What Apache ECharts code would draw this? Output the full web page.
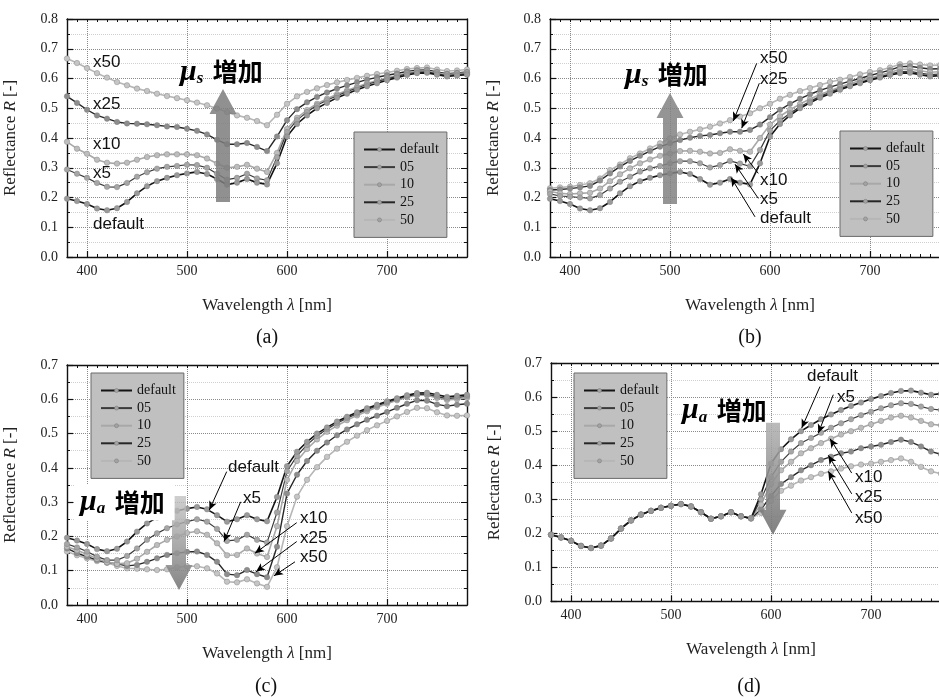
<!DOCTYPE html>
<html>
<head>
<meta charset="utf-8">
<script src="https://cdn.jsdelivr.net/npm/echarts@6/dist/echarts.min.js"></script>
<style>
  html, body { margin: 0; background: #fff; }
  #chart { width: 939px; height: 697px; }
</style>
</head>
<body>
<div id="chart"></div>
<script>
// wavelength [nm], one point every 10 nm
const wavelength = [380, 390, 400, 410, 420, 430, 440, 450, 460, 470, 480, 490, 500, 510, 520, 530, 540, 550, 560, 570, 580,
  590, 600, 610, 620, 630, 640, 650, 660, 670, 680, 690, 700, 710, 720, 730, 740, 750, 760, 770, 780]

// default spectrum (same in all four panels)
const reflDefault = [0.196, 0.188, 0.178, 0.163, 0.157, 0.164, 0.185, 0.214, 0.238, 0.255, 0.266, 0.275, 0.281, 0.286, 0.279, 0.262, 0.243, 0.250, 0.262, 0.250, 0.244,
  0.315, 0.405, 0.447, 0.476, 0.500, 0.518, 0.535, 0.549, 0.562, 0.574, 0.584, 0.594, 0.603, 0.612, 0.618, 0.619, 0.613, 0.607, 0.610, 0.613]

// (a) mu_s increase
const scatA05 = [0.294, 0.280, 0.266, 0.249, 0.236, 0.235, 0.249, 0.270, 0.285, 0.297, 0.303, 0.306, 0.310, 0.309, 0.300, 0.280, 0.260, 0.266, 0.280, 0.264, 0.258,
  0.335, 0.420, 0.460, 0.487, 0.510, 0.527, 0.542, 0.556, 0.568, 0.580, 0.590, 0.599, 0.607, 0.616, 0.621, 0.622, 0.616, 0.610, 0.613, 0.616]
const scatA10 = [0.387, 0.364, 0.347, 0.327, 0.317, 0.314, 0.317, 0.327, 0.336, 0.342, 0.345, 0.345, 0.345, 0.342, 0.331, 0.314, 0.300, 0.303, 0.310, 0.297, 0.286,
  0.350, 0.430, 0.468, 0.494, 0.515, 0.532, 0.547, 0.560, 0.572, 0.583, 0.593, 0.602, 0.610, 0.618, 0.624, 0.625, 0.619, 0.613, 0.616, 0.619]
const scatA25 = [0.540, 0.518, 0.495, 0.476, 0.465, 0.454, 0.449, 0.448, 0.446, 0.443, 0.439, 0.437, 0.431, 0.424, 0.412, 0.394, 0.379, 0.379, 0.383, 0.370, 0.356,
  0.405, 0.460, 0.497, 0.520, 0.538, 0.553, 0.566, 0.577, 0.587, 0.596, 0.604, 0.611, 0.617, 0.624, 0.628, 0.629, 0.622, 0.616, 0.619, 0.622]
const scatA50 = [0.667, 0.652, 0.635, 0.618, 0.603, 0.588, 0.577, 0.566, 0.558, 0.549, 0.541, 0.534, 0.527, 0.519, 0.510, 0.499, 0.487, 0.476, 0.468, 0.457, 0.443,
  0.478, 0.515, 0.540, 0.555, 0.567, 0.578, 0.587, 0.595, 0.602, 0.609, 0.615, 0.620, 0.626, 0.632, 0.635, 0.637, 0.630, 0.625, 0.627, 0.630]

// (b) mu_s increase (other layer)
const scatB05 = [0.212, 0.205, 0.203, 0.200, 0.197, 0.208, 0.230, 0.253, 0.270, 0.287, 0.298, 0.306, 0.315, 0.322, 0.322, 0.315, 0.301, 0.309, 0.323, 0.314, 0.305,
  0.360, 0.425, 0.458, 0.483, 0.505, 0.523, 0.540, 0.554, 0.566, 0.577, 0.587, 0.597, 0.606, 0.615, 0.623, 0.624, 0.618, 0.613, 0.615, 0.617]
const scatB10 = [0.220, 0.214, 0.212, 0.214, 0.216, 0.230, 0.255, 0.278, 0.298, 0.315, 0.328, 0.340, 0.348, 0.356, 0.357, 0.354, 0.348, 0.350, 0.362, 0.357, 0.354,
  0.400, 0.445, 0.473, 0.495, 0.514, 0.531, 0.546, 0.559, 0.571, 0.582, 0.593, 0.602, 0.611, 0.620, 0.631, 0.632, 0.626, 0.621, 0.623, 0.625]
const scatB25 = [0.225, 0.227, 0.230, 0.234, 0.239, 0.257, 0.281, 0.304, 0.323, 0.340, 0.356, 0.371, 0.382, 0.393, 0.401, 0.407, 0.410, 0.416, 0.421, 0.421, 0.427,
  0.445, 0.470, 0.495, 0.515, 0.532, 0.547, 0.560, 0.571, 0.581, 0.591, 0.600, 0.610, 0.619, 0.628, 0.640, 0.641, 0.636, 0.632, 0.633, 0.635]
const scatB50 = [0.231, 0.234, 0.236, 0.242, 0.248, 0.264, 0.292, 0.311, 0.332, 0.348, 0.365, 0.382, 0.399, 0.412, 0.421, 0.429, 0.438, 0.449, 0.460, 0.472, 0.483,
  0.500, 0.515, 0.532, 0.545, 0.558, 0.568, 0.578, 0.588, 0.596, 0.605, 0.614, 0.622, 0.628, 0.637, 0.648, 0.651, 0.647, 0.644, 0.645, 0.647]

// (c) mu_a increase
const absC05 = [0.178, 0.168, 0.156, 0.141, 0.131, 0.131, 0.143, 0.165, 0.190, 0.209, 0.224, 0.235, 0.243, 0.250, 0.243, 0.222, 0.187, 0.190, 0.205, 0.190, 0.182,
  0.270, 0.390, 0.435, 0.467, 0.493, 0.513, 0.530, 0.545, 0.558, 0.570, 0.581, 0.591, 0.600, 0.609, 0.614, 0.615, 0.608, 0.602, 0.605, 0.609]
const absC10 = [0.170, 0.160, 0.148, 0.135, 0.125, 0.120, 0.122, 0.135, 0.155, 0.175, 0.190, 0.200, 0.210, 0.215, 0.205, 0.180, 0.145, 0.146, 0.165, 0.150, 0.140,
  0.230, 0.365, 0.420, 0.455, 0.483, 0.505, 0.523, 0.539, 0.553, 0.565, 0.577, 0.587, 0.597, 0.606, 0.612, 0.612, 0.604, 0.598, 0.600, 0.604]
const absC25 = [0.165, 0.151, 0.141, 0.131, 0.124, 0.120, 0.114, 0.117, 0.126, 0.136, 0.146, 0.151, 0.155, 0.156, 0.146, 0.126, 0.090, 0.087, 0.102, 0.090, 0.081,
  0.170, 0.325, 0.380, 0.420, 0.450, 0.474, 0.495, 0.512, 0.527, 0.540, 0.552, 0.563, 0.575, 0.587, 0.597, 0.596, 0.585, 0.580, 0.584, 0.587]
const absC50 = [0.156, 0.145, 0.136, 0.128, 0.123, 0.114, 0.107, 0.106, 0.104, 0.102, 0.104, 0.110, 0.113, 0.113, 0.107, 0.092, 0.068, 0.066, 0.075, 0.063, 0.053,
  0.110, 0.230, 0.316, 0.365, 0.402, 0.432, 0.456, 0.476, 0.494, 0.510, 0.524, 0.537, 0.550, 0.563, 0.575, 0.574, 0.562, 0.553, 0.552, 0.553]

// (d) mu_a increase (only above 580 nm)
const absD05 = [0.196, 0.188, 0.178, 0.163, 0.157, 0.164, 0.185, 0.214, 0.238, 0.255, 0.266, 0.275, 0.281, 0.286, 0.279, 0.262, 0.243, 0.250, 0.262, 0.250, 0.244,
  0.300, 0.365, 0.410, 0.440, 0.465, 0.480, 0.495, 0.510, 0.523, 0.535, 0.547, 0.557, 0.567, 0.576, 0.582, 0.580, 0.572, 0.565, 0.562, 0.562]
const absD10 = [0.196, 0.188, 0.178, 0.163, 0.157, 0.164, 0.185, 0.214, 0.238, 0.255, 0.266, 0.275, 0.281, 0.286, 0.279, 0.262, 0.243, 0.250, 0.262, 0.250, 0.244,
  0.285, 0.345, 0.385, 0.410, 0.435, 0.450, 0.465, 0.478, 0.490, 0.500, 0.510, 0.520, 0.530, 0.540, 0.545, 0.540, 0.530, 0.520, 0.517, 0.516]
const absD25 = [0.196, 0.188, 0.178, 0.163, 0.157, 0.164, 0.185, 0.214, 0.238, 0.255, 0.266, 0.275, 0.281, 0.286, 0.279, 0.262, 0.243, 0.250, 0.262, 0.250, 0.244,
  0.270, 0.310, 0.345, 0.365, 0.385, 0.400, 0.415, 0.425, 0.435, 0.440, 0.450, 0.455, 0.460, 0.468, 0.475, 0.468, 0.455, 0.440, 0.432, 0.430]
const absD50 = [0.196, 0.188, 0.178, 0.163, 0.157, 0.164, 0.185, 0.214, 0.238, 0.255, 0.266, 0.275, 0.281, 0.286, 0.279, 0.262, 0.243, 0.250, 0.262, 0.250, 0.244,
  0.260, 0.295, 0.325, 0.340, 0.355, 0.365, 0.375, 0.382, 0.390, 0.397, 0.402, 0.405, 0.410, 0.415, 0.420, 0.410, 0.395, 0.382, 0.375, 0.375]

const seriesNames = ['default', '05', '10', '25', '50']
const yTickMax = [0.8, 0.8, 0.7, 0.7]

// annotations: [text, wavelength, R]
const labelsA = [['x50', 406, 0.655], ['x25', 406, 0.514], ['x10', 406, 0.38], ['x5', 406, 0.282], ['default', 406, 0.111]]
const labelsB = [['x50', 590, 0.669], ['x25', 590, 0.598], ['x10', 590, 0.259], ['x5', 590, 0.195], ['default', 590, 0.131]]
const labelsC = [['default', 541, 0.403], ['x5', 556, 0.311], ['x10', 613, 0.253], ['x25', 613, 0.194], ['x50', 613, 0.139]]
const labelsD = [['default', 636, 0.661], ['x5', 666, 0.6], ['x10', 684, 0.365], ['x25', 684, 0.306], ['x50', 684, 0.245]]
// pointer arrows: [from wl, from R, to wl, to R]
const pointersB = [[586.7, 0.651, 563.3, 0.457], [589.3, 0.584, 571.7, 0.433], [588.3, 0.281, 573.3, 0.346], [588.3, 0.197, 565, 0.312], [585, 0.135, 561, 0.267]]
const pointersC = [[539.7, 0.389, 522.3, 0.277], [553.7, 0.301, 537, 0.185], [609.7, 0.24, 568, 0.151], [609.7, 0.185, 569, 0.097], [608, 0.126, 587, 0.085]]
const pointersD = [[649, 0.631, 630.7, 0.509], [662.3, 0.607, 647.3, 0.494], [680.7, 0.377, 659, 0.478], [680.7, 0.316, 657.3, 0.429], [680.7, 0.26, 657.3, 0.382]]
// big arrows: [wavelength, R start, R tip]
const arrowA = [536, 0.185, 0.565]
const arrowB = [500, 0.178, 0.551]
const arrowC = [492, 0.318, 0.044]
const arrowD = [602, 0.525, 0.196]
// "mu 増加" titles: [wavelength, R, subscript]
const muA = [493, 0.622, 's']
const muB = [455, 0.612, 's']
const muC = [387, 0.30, 'a']
const muD = [511, 0.56, 'a']

const serif = 'Liberation Serif'
const sans = 'Liberation Sans'
const lineColors = ['#141414', '#3a3a3a', '#a8a8a8', '#262626', '#b6b6b6']
const lineWidths = [1.6, 1.2, 1.6, 1.4, 1.6]
const dotColors = ['#9a9a9a', '#a6a6a6', '#bdbdbd', '#8d8d8d', '#c5c5c5']

const panels = [
  { grid: { left: 67, top: 19, width: 400, height: 238 }, curves: [reflDefault, scatA05, scatA10, scatA25, scatA50],
    legend: { left: 354, top: 132 }, labels: labelsA, pointers: [], arrow: arrowA, mu: muA, caption: ['(a)', 267, 338],
    fill: ['rgba(125,125,125,0.85)', 'rgba(125,125,125,0.85)'] },
  { grid: { left: 550, top: 19, width: 400, height: 238 }, curves: [reflDefault, scatB05, scatB10, scatB25, scatB50],
    legend: { left: 840, top: 131 }, labels: labelsB, pointers: pointersB, arrow: arrowB, mu: muB, caption: ['(b)', 750, 338],
    fill: ['rgba(130,130,130,0.85)', 'rgba(130,130,130,0.85)'] },
  { grid: { left: 67, top: 365, width: 400, height: 240 }, curves: [reflDefault, absC05, absC10, absC25, absC50],
    legend: { left: 91, top: 373 }, labels: labelsC, pointers: pointersC, arrow: arrowC, mu: muC, caption: ['(c)', 266, 687],
    fill: ['rgba(195,195,195,0.8)', 'rgba(120,120,120,0.9)'], muBg: true },
  { grid: { left: 551, top: 363, width: 400, height: 238.5 }, curves: [reflDefault, absD05, absD10, absD25, absD50],
    legend: { left: 574, top: 373 }, labels: labelsD, pointers: pointersD, arrow: arrowD, mu: muD, caption: ['(d)', 749, 687],
    fill: ['rgba(175,175,175,0.85)', 'rgba(115,115,115,0.9)'] }
]

const isMajor = (idx, val) => Number(val) % 100 === 0
const frame = { color: '#111', width: 1.4 }
const nameStyle = {
  fontFamily: serif, fontSize: 17, color: '#222',
  rich: { i: { fontFamily: serif, fontStyle: 'italic', fontSize: 17, color: '#222' } }
}

const chart = echarts.init(document.getElementById('chart'))

const grids = [], xAxes = [], yAxes = [], series = [], legends = [], captions = []

panels.forEach((p, i) => {
  grids.push(Object.assign({ outerBoundsMode: 'none', containLabel: false }, p.grid))

  // data axis with 10 nm minor ticks
  xAxes.push({
    type: 'value', gridIndex: i, min: 380, max: 780, interval: 10, position: 'bottom',
    axisLine: { show: true, onZero: false, lineStyle: frame },
    axisTick: { show: true, inside: true, length: 3, lineStyle: { color: '#111' } },
    axisLabel: { show: false }, splitLine: { show: false }
  })
  // major ticks, labels and vertical grid lines every 100 nm
  xAxes.push({
    type: 'category', gridIndex: i, data: wavelength.map(String), boundaryGap: false, position: 'bottom',
    axisLine: { show: false },
    axisTick: { show: true, inside: true, length: 6, interval: isMajor, lineStyle: { color: '#111', width: 1.2 } },
    axisLabel: { interval: isMajor, margin: 7, fontFamily: serif, fontSize: 14, color: '#222' },
    splitLine: { show: true, interval: isMajor, lineStyle: { type: 'dotted', color: '#8a8a8a' } },
    name: 'Wavelength {i|λ} [nm]', nameLocation: 'middle', nameGap: 40, nameTextStyle: nameStyle
  })
  // top frame
  xAxes.push({
    type: 'value', gridIndex: i, min: 380, max: 780, interval: 10, position: 'top',
    axisLine: { show: true, onZero: false, lineStyle: frame },
    axisTick: { show: true, inside: true, length: 3, lineStyle: { color: '#111' } },
    axisLabel: { show: false }, splitLine: { show: false }
  })

  yAxes.push({
    type: 'value', gridIndex: i, min: 0, max: yTickMax[i], interval: 0.1, position: 'left',
    axisLine: { show: true, onZero: false, lineStyle: frame },
    axisTick: { show: true, inside: true, length: 6, lineStyle: { color: '#111', width: 1.2 } },
    minorTick: { show: true, splitNumber: 2, length: 3, lineStyle: { color: '#111' } },
    axisLabel: { formatter: v => v.toFixed(1), margin: 9, fontFamily: serif, fontSize: 14, color: '#222' },
    splitLine: { show: true, lineStyle: { type: 'dotted', color: '#8a8a8a' } },
    minorSplitLine: { show: true, lineStyle: { type: 'dotted', color: '#cfcfcf' } },
    name: 'Reflectance {i|R} [-]', nameLocation: 'middle', nameGap: 48, nameRotate: 90, nameTextStyle: nameStyle
  })
  yAxes.push({
    type: 'value', gridIndex: i, min: 0, max: yTickMax[i], interval: 0.1, position: 'right',
    axisLine: { show: true, onZero: false, lineStyle: frame },
    axisTick: { show: true, inside: true, length: 6, lineStyle: { color: '#111' } },
    minorTick: { show: true, splitNumber: 2, length: 3, lineStyle: { color: '#111' } },
    axisLabel: { show: false }, splitLine: { show: false }
  })

  const xIdx = 3 * i, yIdx = 2 * i

  // draw 50 first so that default ends on top
  for (let k = 4; k >= 0; k--) {
    const s = {
      type: 'line', name: seriesNames[k], xAxisIndex: xIdx, yAxisIndex: yIdx,
      data: wavelength.map((w, j) => [w, p.curves[k][j]]),
      symbol: 'circle', symbolSize: 5.5, showAllSymbol: true,
      lineStyle: { color: lineColors[k], width: lineWidths[k] },
      itemStyle: { color: dotColors[k], borderColor: '#7a7a7a', borderWidth: 0.4 },
      emphasis: { disabled: true }, silent: true, z: 3
    }
    if (k === 0) {
      const muRich = {
        mu: { fontFamily: serif, fontStyle: 'italic', fontWeight: 'bold', fontSize: 30, color: '#000' },
        sb: { fontFamily: serif, fontStyle: 'italic', fontWeight: 'bold', fontSize: 17, color: '#000', verticalAlign: 'bottom' },
        k: { fontFamily: 'Noto Sans CJK JP', fontWeight: 'bold', fontSize: 25, color: '#000' }
      }
      const muLabel = {
        show: true, position: 'right', distance: 0, formatter: `{mu|μ}{sb|${p.mu[2]}}  {k|増加}`, rich: muRich
      }
      if (p.muBg) Object.assign(muLabel, { backgroundColor: '#fff', padding: [3, 10, 3, 6] })
      s.markPoint = {
        symbol: 'circle', symbolSize: 0, silent: true, animation: false,
        label: { show: true, position: 'right', distance: 0, formatter: q => q.name, fontFamily: sans, fontSize: 17, color: '#111' },
        data: p.labels.map(l => ({ name: l[0], coord: [l[1], l[2]] }))
          .concat([{ name: 'mu', coord: [p.mu[0], p.mu[1]], label: muLabel }])
      }
      if (p.pointers.length) {
        s.markLine = {
          silent: true, animation: false, symbol: ['none', 'arrow'], symbolSize: [6, 9],
          lineStyle: { color: '#000', width: 1, type: 'solid' }, label: { show: false },
          emphasis: { disabled: true },
          data: p.pointers.map(q => [{ coord: [q[0], q[1]] }, { coord: [q[2], q[3]] }])
        }
      }
    }
    series.push(s)
  }

  // big gray arrow
  series.push({
    type: 'custom', xAxisIndex: xIdx, yAxisIndex: yIdx, silent: true, z: 4,
    data: [p.arrow],
    encode: { x: 0, y: [1, 2] },
    renderItem: (params, api) => {
      const p0 = api.coord([api.value(0), api.value(1)])
      const p1 = api.coord([api.value(0), api.value(2)])
      const up = p1[1] < p0[1]
      const neck = p1[1] + (up ? 25 : -25)
      const x = p0[0]
      return {
        type: 'polygon',
        shape: { points: [[x - 7, p0[1]], [x - 7, neck], [x - 13.5, neck], [x, p1[1]], [x + 13.5, neck], [x + 7, neck], [x + 7, p0[1]]] },
        style: {
          fill: new echarts.graphic.LinearGradient(0, 0, 0, 1, [
            { offset: 0, color: up ? p.fill[1] : p.fill[0] },
            { offset: 1, color: up ? p.fill[0] : p.fill[1] }
          ])
        }
      }
    }
  })

  legends.push({
    left: p.legend.left, top: p.legend.top, orient: 'vertical', data: seriesNames,
    selectedMode: false, backgroundColor: '#c0c0c0', borderColor: '#6a6a6a', borderWidth: 1,
    padding: [10, 8, 10, 9], itemWidth: 31, itemHeight: 5, itemGap: 2.6,
    itemStyle: { color: '#a3a3a3', borderColor: '#777', borderWidth: 0.5 },
    textStyle: { fontFamily: serif, fontSize: 14, color: '#111', lineHeight: 15 }
  })

  captions.push({
    type: 'text', x: p.caption[1], y: p.caption[2], silent: true,
    style: { text: p.caption[0], font: '20px "Liberation Serif"', fill: '#111', align: 'center', verticalAlign: 'middle' }
  })
})

chart.setOption({
  backgroundColor: '#fff',
  animation: false,
  grid: grids,
  xAxis: xAxes,
  yAxis: yAxes,
  legend: legends,
  series: series,
  graphic: captions
})
</script>
</body>
</html>
